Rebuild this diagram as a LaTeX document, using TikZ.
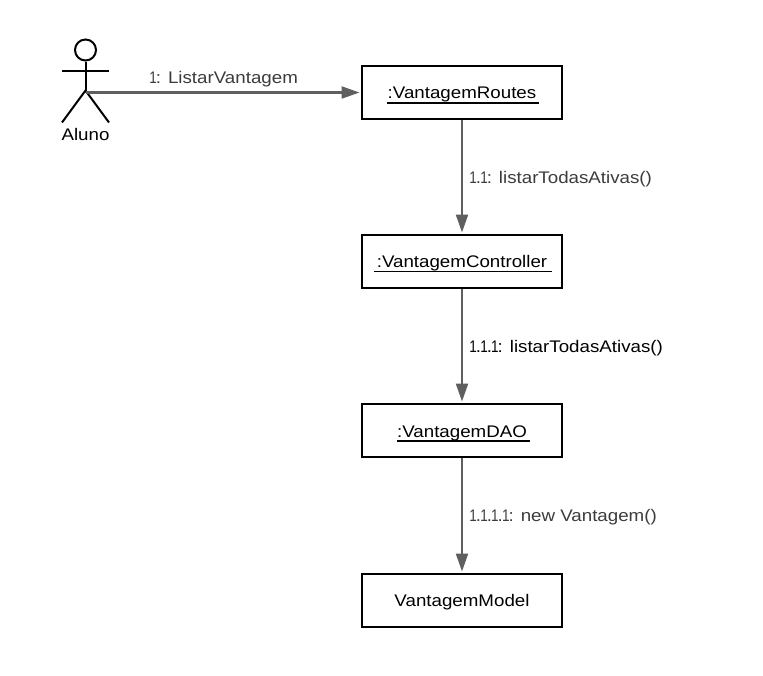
\documentclass[tikz,border=0pt]{standalone}
\usepackage{fontspec}
\usepackage{graphicx}
\setmainfont[FakeStretch=1.115]{Liberation Sans}
\usetikzlibrary{arrows.meta}
\definecolor{conn}{HTML}{5F5F5F}
\definecolor{lab}{HTML}{3C3C3C}
\newcommand{\nar}{\kern-0.8pt\scalebox{0.72}[1]{1}\kern-1pt}
\tikzset{
  x=1pt,y=-1pt,
  objbox/.style={draw=black,line width=2pt,fill=white,minimum width=200pt,minimum height=53pt,inner sep=0pt},
  objtext/.style={anchor=base,inner sep=0pt,font=\fontsize{16.8}{18}\selectfont,text=black},
  msg/.style={draw=conn,line width=2.2pt,-{Triangle[length=18pt,width=12pt,fill=conn]},shorten >=1.5pt},
  msglabel/.style={anchor=base west,inner sep=0pt,font=\fontsize{16.8}{18}\selectfont,text=lab},
  limb/.style={draw=black,line width=2pt},
  uline/.style={draw=black,line width=1.2pt}
}
\begin{document}
\begin{tikzpicture}
\useasboundingbox (0,0) rectangle (763,675);
\fill[white] (0,0) rectangle (763,675);
% actor
\node[circle,draw=black,line width=2pt,minimum size=21pt,inner sep=0pt] (head) at (85.5,50) {};
\coordinate (hip) at (85.5,90.5);
\coordinate (start) at (85.5,92.5);
\coordinate (armL) at (62,70.5);
\coordinate (armR) at (109,70.5);
\coordinate (footL) at (62,122.5);
\coordinate (footR) at (109,122.5);
\draw[limb] (head.south) -- (hip);
\draw[limb] (armL) -- (armR);
\draw[limb] (footL) -- (hip) -- (footR);
\node[objtext] (aluno) at (85.5,140.7) {Aluno};
% objects
\node[objbox] (routes) at (462,92.5) {};
\node[objbox] (controller) at (462,261.5) {};
\node[objbox] (dao) at (462,430.5) {};
\node[objbox] (model) at (462,600.5) {};
\node[objtext] (troutes) at (462,98.3) {:VantagemRoutes};
\node[objtext] (tcontroller) at (462,267.3) {:VantagemController};
\node[objtext] (tdao) at (462,437.3) {:VantagemDAO};
\node[objtext] (tmodel) at (462,606) {VantagemModel};
% underlines
\draw[uline,line width=1.6pt] (387,102.7) -- (539,102.7);
\draw[uline] (374,271.7) -- (552,271.7);
\draw[uline] (397,441) -- (530,441);
% connectors
\draw[msg] (start) -- (routes.west);
\draw[msg] (routes) -- (controller);
\draw[msg] (controller) -- (dao);
\draw[msg] (dao) -- (model);
% labels
\node[msglabel] (l1) at (150,83.3) {\nar: ListarVantagem};
\node[msglabel] (l2) at (470,183.3) {\nar.\nar: listarTodasAtivas()};
\node[msglabel,text=black] (l3) at (470,352.7) {\nar.\nar.\nar: listarTodasAtivas()};
\node[msglabel] (l4) at (470,521.7) {\nar.\nar.\nar.\nar: new Vantagem()};
\end{tikzpicture}
\end{document}
